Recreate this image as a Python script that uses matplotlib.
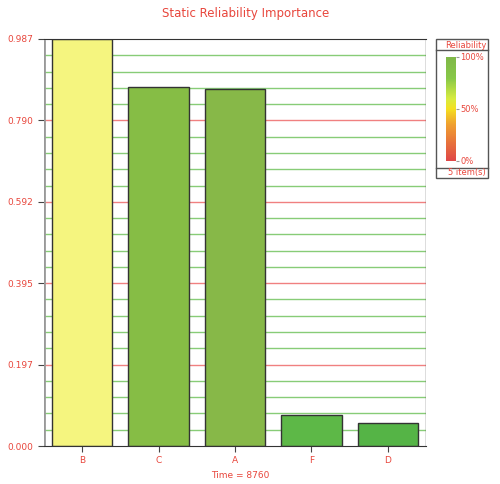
import numpy as np
import matplotlib
matplotlib.use("Agg")
import matplotlib.pyplot as plt
from matplotlib.colors import LinearSegmentedColormap
from matplotlib.patches import Rectangle

# Data
components = ["B", "C", "A", "F", "D"]
importance = [0.987, 0.871, 0.866, 0.075, 0.056]
bar_colors = ["#F5F57F", "#86BD45", "#87B848", "#5DB847", "#55B446"]
tick_values = [0.000, 0.197, 0.395, 0.592, 0.790, 0.987]
tick_labels = ["0.000", "0.197", "0.395", "0.592", "0.790", "0.987"]

red = "#E8463C"
W, H = 500, 484
fig = plt.figure(figsize=(5, 4.84), dpi=100)
ax = fig.add_axes([44 / W, 1 - 446 / H, 382 / W, 407 / H])

# grid: green minor lines, red major lines every fifth
minor = np.linspace(0, 0.987, 26)
for i, v in enumerate(minor):
    if i % 5 == 0:
        if 0 < i < 25:
            ax.axhline(v, color="#F08080", lw=1, zorder=0)
    else:
        ax.axhline(v, color="#88CC77", lw=1, zorder=0)

x = np.arange(len(components))
ax.bar(x, importance, width=0.79, color=bar_colors, edgecolor="#333333", lw=1, zorder=2)

ax.set_xlim(-0.5, 4.5)
ax.set_ylim(0, 0.987)
ax.set_yticks(tick_values)
ax.set_yticklabels(tick_labels)
ax.set_xticks(x)
ax.set_xticklabels(components)
ax.tick_params(labelsize=6.5, colors="#444444", labelcolor=red, length=4)
for s in ["left", "right"]:
    ax.spines[s].set_visible(False)
ax.spines["top"].set_color("#333333")
ax.spines["bottom"].set_color("#333333")
ax.axvline(-0.5, color="#999999", lw=2, ymax=0.995)
ax.axvline(4.5, color="#555555", lw=1)

fig.text(246 / W, 1 - 14 / H, "Static Reliability Importance", color=red, fontsize=8.5, ha="center", va="center")
fig.text(240 / W, 1 - 476 / H, "Time = 8760", color=red, fontsize=6.5, ha="center", va="center")

# legend box
fig.patches.append(Rectangle((436 / W, 1 - 178 / H), 52 / W, 139 / H, transform=fig.transFigure,
                             fill=False, edgecolor="#555555", lw=1))
fig.lines.append(plt.Line2D([436 / W, 488 / W], [1 - 50 / H] * 2, transform=fig.transFigure, color="#555555", lw=1))
fig.lines.append(plt.Line2D([436 / W, 488 / W], [1 - 168 / H] * 2, transform=fig.transFigure, color="#555555", lw=1))
fig.text(486 / W, 1 - 45 / H, "Reliability", color=red, fontsize=6, ha="right", va="center")
fig.text(486 / W, 1 - 173 / H, "5 item(s)", color=red, fontsize=6, ha="right", va="center")

cmap = LinearSegmentedColormap.from_list("rel", [(0, "#E04848"), (0.35, "#F0A030"), (0.5, "#F5E020"),
                                                 (0.6, "#D8EC40"), (0.8, "#88C848"), (1, "#80B848")])
cax = fig.add_axes([446 / W, 1 - 161 / H, 10 / W, 104 / H])
cax.imshow(np.linspace(1, 0, 100).reshape(-1, 1), aspect="auto", cmap=cmap, extent=[0, 1, 0, 1])
cax.set_xticks([])
cax.yaxis.tick_right()
cax.set_yticks([0, 0.5, 1])
cax.set_yticklabels(["0%", "50%", "100%"])
cax.tick_params(labelsize=6, labelcolor=red, colors="#999999", length=2, pad=1)
for s in cax.spines.values():
    s.set_visible(False)

fig.savefig("out.png", dpi=100)
